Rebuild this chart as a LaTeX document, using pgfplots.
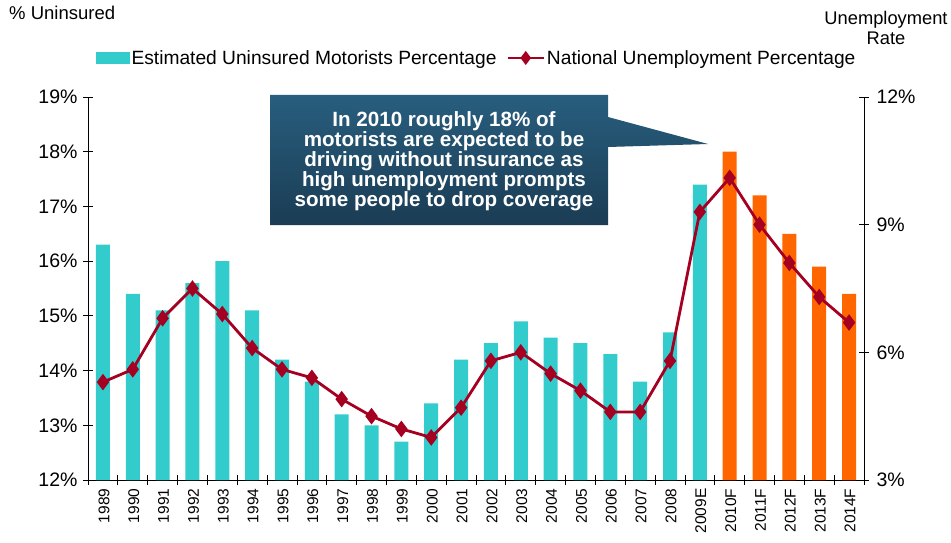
\documentclass[border=0pt]{standalone}
\usepackage{pgfplots}
\pgfplotsset{compat=1.18}
\usepackage{pgfplotstable}
\usepackage{fontspec}
\setmainfont{Liberation Sans}
\definecolor{tealc}{HTML}{33CCCC}
\definecolor{orng}{HTML}{FF6600}
\definecolor{dred}{HTML}{A50021}
\definecolor{boxtop}{HTML}{285E7E}
\definecolor{boxbot}{HTML}{1B3C54}
\newcommand\fs[1]{\fontsize{#1}{#1}\selectfont}
\pgfplotsset{
  barleg/.style={legend image code/.code={\fill[tealc] (0pt,-5.5pt) rectangle (33pt,5.5pt);}},
  lineleg/.style={legend image code/.code={\draw[mark repeat=2,mark phase=2,##1] plot coordinates {(0pt,0pt) (18pt,0pt) (36pt,0pt)};}},
}

\pgfplotstableread{
idx unins
0 16.3
1 15.4
2 15.1
3 15.6
4 16.0
5 15.1
6 14.2
7 13.8
8 13.2
9 13.0
10 12.7
11 13.4
12 14.2
13 14.5
14 14.9
15 14.6
16 14.5
17 14.3
18 13.8
19 14.7
20 17.4
}\barsA

\pgfplotstableread{
idx unins
21 18.0
22 17.2
23 16.5
24 15.9
25 15.4
}\barsF

\pgfplotstableread{
idx unemp
0 5.3
1 5.6
2 6.8
3 7.5
4 6.9
5 6.1
6 5.6
7 5.4
8 4.9
9 4.5
10 4.2
11 4.0
12 4.7
13 5.8
14 6.0
15 5.5
16 5.1
17 4.6
18 4.6
19 5.8
20 9.3
21 10.1
22 9.0
23 8.1
24 7.3
25 6.7
}\lineT

\begin{document}
\begin{tikzpicture}
\useasboundingbox (0pt,0pt) rectangle (951pt,542pt);
\begin{axis}[
  scale only axis, width=776pt, height=383pt,
  at={(88pt,62pt)}, anchor=south west,
  xmin=-0.5, xmax=25.5, ymin=12, ymax=19,
  axis x line*=bottom, axis y line*=left,
  axis line style={black, line width=0.8pt},
  xtick={0,...,25},
  xticklabels={1989,1990,1991,1992,1993,1994,1995,1996,1997,1998,1999,2000,2001,2002,2003,2004,2005,2006,2007,2008,2009E,2010F,2011F,2012F,2013F,2014F},
  minor xtick={-0.5,0.5,...,25.5},
  major x tick style={draw=none},
  minor tick length=10pt, major tick length=10pt,
  tick align=center,
  tick style={black, line width=0.8pt},
  ytick={12,13,...,19},
  /pgf/number format/assume math mode=true,
  yticklabel={\pgfmathprintnumber{\tick}\%},
  yticklabel style={font=\fs{19.5}, xshift=-2pt},
  xticklabel style={rotate=90, anchor=east, font=\fs{15.5}, yshift=-1pt},
  legend columns=2,
  legend style={at={(axis description cs:0.501,1.102)}, anchor=center, draw=none, fill=none, font=\fs{19.2},
    /tikz/every even column/.append style={column sep=8pt}},
]
\addplot[ybar, bar width=14pt, bar shift=0pt, fill=tealc, draw=none, forget plot] table[x=idx, y=unins] {\barsA};
\addplot[ybar, bar width=14pt, bar shift=0pt, fill=orng, draw=none, forget plot] table[x=idx, y=unins] {\barsF};
\addlegendimage{barleg}
\addlegendentry{Estimated Uninsured Motorists Percentage}
\addlegendimage{lineleg, dred, line width=2.5pt, mark=diamond*, mark size=5pt, mark options={solid}}
\addlegendentry{National Unemployment Percentage}
\end{axis}
\begin{axis}[
  scale only axis, width=776pt, height=383pt,
  at={(88pt,62pt)}, anchor=south west,
  xmin=-0.5, xmax=25.5, ymin=3, ymax=12,
  axis x line=none, axis y line*=right,
  axis line style={black, line width=0.8pt},
  ytick={3,6,9,12},
  tick align=center, major tick length=10pt,
  tick style={black, line width=0.8pt},
  /pgf/number format/assume math mode=true,
  yticklabel={\pgfmathprintnumber{\tick}\%},
  yticklabel style={font=\fs{19.5}, xshift=4pt},
]
\addplot[dred, line width=2.8pt, mark=diamond*, mark size=6pt] table[x=idx, y=unemp] {\lineT};
\end{axis}
% titles
\node[anchor=west, font=\fs{18.5}, inner sep=0pt] at (9pt,529pt) {\% Uninsured};
\node[align=center, font=\fs{18.3}, inner sep=0pt] at (886pt,514pt) {Unemployment\\[2pt]Rate};
% callout
\shade[top color=boxtop, bottom color=boxbot]
  (270pt,447pt) -- (608pt,447pt) -- (608pt,425pt) -- (708pt,398pt) -- (608pt,395pt) -- (608pt,317pt) -- (270pt,317pt) -- cycle;
\node[align=center, text=white, font=\bfseries\fontsize{20.6}{20}\selectfont, inner sep=0pt] at (444pt,381pt)
  {In 2010 roughly 18\% of\\motorists are expected to be\\driving without insurance as\\high unemployment prompts\\some people to drop coverage};
\end{tikzpicture}
\end{document}
